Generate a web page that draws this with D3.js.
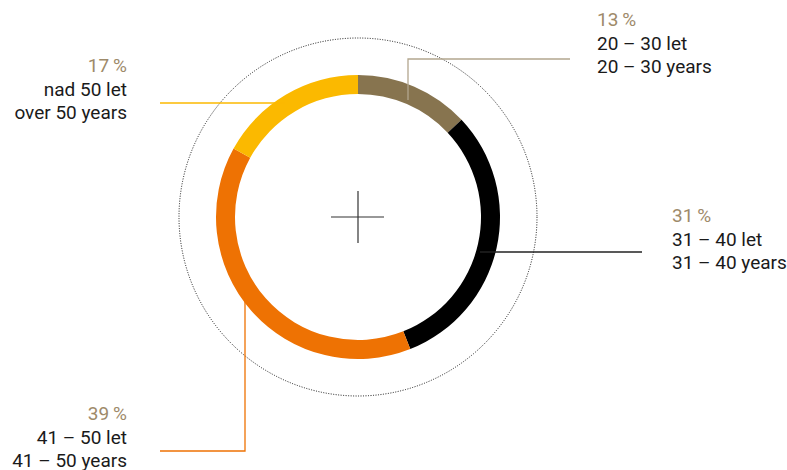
<!DOCTYPE html>
<html><head><meta charset="utf-8">
<script src="https://cdn.jsdelivr.net/npm/d3@7"></script>
<style>body{margin:0;background:#fff}svg{display:block}text{font-family:Roboto,"DejaVu Sans",sans-serif;font-size:19px}</style>
</head><body><svg id="c" width="787" height="470"></svg>
<script>
const categories = ["20 – 30", "31 – 40", "41 – 50", "nad 50"];
const categoriesCz = ["20 – 30 let", "31 – 40 let", "41 – 50 let", "nad 50 let"];
const categoriesEn = ["20 – 30 years", "31 – 40 years", "41 – 50 years", "over 50 years"];
const values = [13, 31, 39, 17];
const colors = ["#87744f", "#000000", "#ee7203", "#fbb900"];

const svg = d3.select("#c");
const cx = 358, cy = 217, R = 142, r = 123, Rd = 179;
const g = svg.append("g").attr("transform", `translate(${cx},${cy})`);

// dotted outer circle
g.append("circle").attr("r", Rd).attr("fill", "none").attr("stroke", "#000")
  .attr("stroke-width", 0.9).attr("stroke-dasharray", "1,1.5");

// crosshair
g.append("line").attr("x1", -27).attr("x2", 26).attr("y1", 0).attr("y2", 0).attr("stroke", "#333").attr("stroke-width", 1.2);
g.append("line").attr("x1", 0).attr("x2", 0).attr("y1", -26).attr("y2", 26).attr("stroke", "#333").attr("stroke-width", 1.2);

// leader lines (drawn under the ring)
const leaders = [
  [[408, 100], [408, 59], [570, 59]],
  [[480, 252], [642, 252]],
  [[245, 290], [245, 451], [160, 451]],
  [[285, 103], [160, 103]]
];
const line = d3.line();
leaders.forEach((pts, i) => {
  svg.append("path").attr("d", line(pts)).attr("fill", "none")
    .attr("stroke", i === 0 ? "#b3a68e" : (i === 1 ? "#222" : colors[i])).attr("stroke-width", 1.3);
});

const pie = d3.pie().sort(null).value(d => d)(values);
const arc = d3.arc().innerRadius(r).outerRadius(R);
g.selectAll("path.seg").data(pie).join("path").attr("class", "seg")
  .attr("d", arc).attr("fill", (d, i) => colors[i]);

// labels
const labelPos = [
  {x: 597, y: 26, anchor: "start"},
  {x: 672, y: 222, anchor: "start"},
  {x: 127, y: 420, anchor: "end"},
  {x: 127, y: 72, anchor: "end"}
];
values.forEach((v, i) => {
  const p = labelPos[i];
  const t = svg.append("text").attr("x", p.x).attr("y", p.y).attr("text-anchor", p.anchor);
  t.append("tspan").attr("x", p.x).attr("fill", "#9e8a6a").text(v + "\u2009%");
  t.append("tspan").attr("x", p.x).attr("dy", 24).attr("fill", "#1a1a1a").text(categoriesCz[i]);
  t.append("tspan").attr("x", p.x).attr("dy", 23).attr("fill", "#1a1a1a").text(categoriesEn[i]);
});
</script></body></html>
